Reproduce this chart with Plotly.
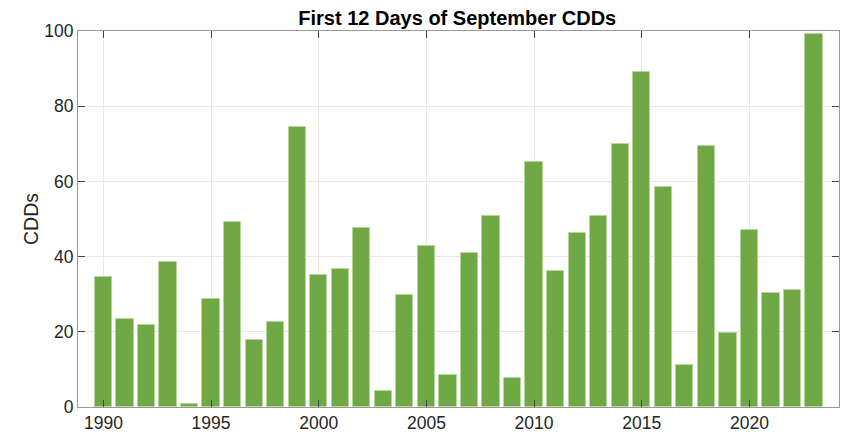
import plotly.graph_objects as go

years = list(range(1990, 2024))
cdds = [34.5, 23.3, 21.7, 38.5, 0.9, 28.7, 49.2, 17.9, 22.5, 74.4,
        35.0, 36.6, 47.5, 4.3, 29.8, 42.8, 8.4, 40.9, 50.7, 7.6,
        65.2, 36.3, 46.4, 50.9, 69.9, 89.0, 58.5, 11.2, 69.3, 19.8,
        47.2, 30.2, 31.2, 99.1]
x_ticks = [1990, 1995, 2000, 2005, 2010, 2015, 2020]
y_ticks = [0, 20, 40, 60, 80, 100]

title_text = "First 12 Days of September CDDs"
y_title = "CDDs"

fig = go.Figure()
fig.add_trace(go.Bar(
    x=years, y=cdds, width=0.8,
    marker=dict(color="#70a845", line=dict(color="#b5d79b", width=1)),
))

font_family = "Liberation Sans, Arial, Helvetica, sans-serif"
fig.update_layout(
    width=846, height=435,
    margin=dict(l=78, r=7, t=31, b=28, autoexpand=False),
    paper_bgcolor="white", plot_bgcolor="white",
    showlegend=False,
    bargap=0,
    title=dict(text="<b>" + title_text + "</b>", x=0.5405, xanchor="center",
               y=1 - 18 / 435, yanchor="middle",
               font=dict(family=font_family, size=20, color="black")),
    font=dict(family=font_family, color="#262626"),
)
fig.update_xaxes(
    range=[1988.82, 2024.16], tickvals=x_ticks, ticktext=[str(v) for v in x_ticks],
    ticks="inside", ticklen=7, tickcolor="#444", tickwidth=1,
    showline=True, linecolor="#999", linewidth=1, mirror="allticks",
    showgrid=True, gridcolor="#e8e8e8", gridwidth=1, zeroline=False,
    tickfont=dict(size=17.5, color="#262626"), automargin=False,
)
fig.update_yaxes(
    range=[0, 100], tickvals=y_ticks,
    ticks="inside", ticklen=7, tickcolor="#444", tickwidth=1,
    showline=True, linecolor="#999", linewidth=1, mirror="allticks",
    showgrid=True, gridcolor="#e8e8e8", gridwidth=1, zeroline=False,
    tickfont=dict(size=17.5, color="#262626"), automargin=False,
    title=dict(text=y_title, font=dict(size=19.5, color="#262626"), standoff=0),
)
fig.write_html("out.html",
               config={"displayModeBar": False},
               post_script="document.body.style.margin='0';document.body.style.overflow='hidden';")
